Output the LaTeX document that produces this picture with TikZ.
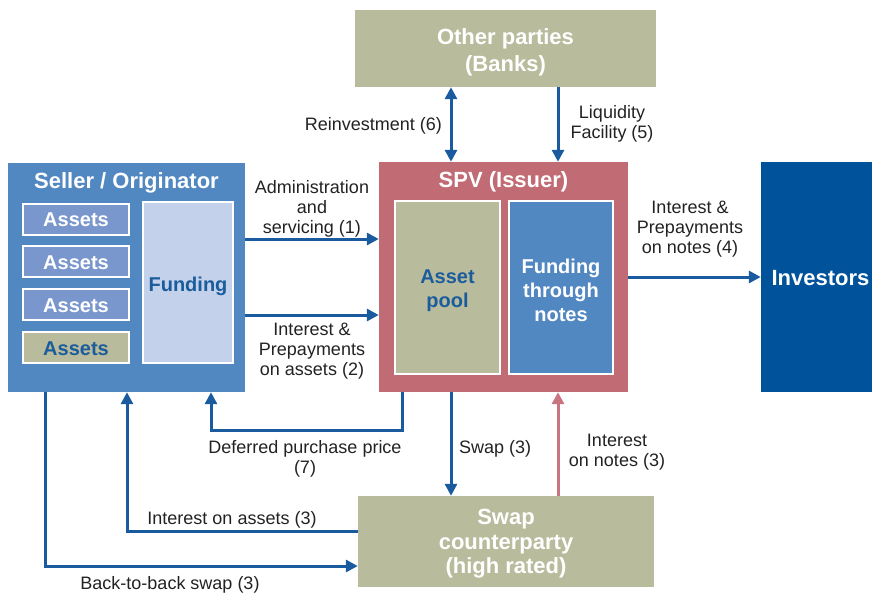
\documentclass[tikz,border=0pt]{standalone}
\usepackage{fontspec}
\setmainfont{Liberation Sans}
\usetikzlibrary{arrows.meta}
\definecolor{sellerblue}{RGB}{82,136,193}
\definecolor{assetblue}{RGB}{122,151,205}
\definecolor{fundlight}{RGB}{195,210,234}
\definecolor{textblue}{RGB}{27,92,156}
\definecolor{olive}{RGB}{184,188,156}
\definecolor{spvred}{RGB}{193,107,116}
\definecolor{invblue}{RGB}{0,82,155}
\definecolor{flowblue}{RGB}{26,90,159}
\definecolor{flowpink}{RGB}{201,117,128}
\definecolor{labelgray}{RGB}{34,34,34}
\begin{document}
\begin{tikzpicture}[x=1pt,y=-1pt,>={Triangle[length=12pt,width=12pt]}]
        \tikzstyle{party}=[draw=none,inner sep=0pt]
        \tikzstyle{inner}=[draw=white,line width=2pt,inner sep=0pt]
        \tikzstyle{bigtext}=[text=white,inner sep=0pt,align=center,font=\bfseries\fontsize{22}{27}\selectfont]
        \tikzstyle{boxtext}=[inner sep=0pt,align=center,font=\bfseries\fontsize{20}{24}\selectfont]
        \tikzstyle{flow}=[->,draw=flowblue,line width=3pt]
        \tikzstyle{lbl}=[text=labelgray,inner sep=0pt,align=center,font=\fontsize{18}{20}\selectfont]
        \useasboundingbox (0,0) rectangle (872,594);
        % boxes
        \node [party,fill=olive,minimum width=301pt,minimum height=77pt] (other) at (505.5,48.5) {};
        \node [bigtext] (othertext) at ([yshift=-4pt]other.center) {Other parties\\(Banks)};
        \node [party,fill=sellerblue,minimum width=237pt,minimum height=229pt] (seller) at (126.5,277.5) {};
        \node [bigtext] (sellertitle) at (126.5,183) {Seller / Originator};
        \node [inner,fill=assetblue,minimum width=106pt,minimum height=31pt] (a1) at (76,219) {};
        \node [inner,fill=assetblue,minimum width=106pt,minimum height=31pt] (a2) at (76,261.5) {};
        \node [inner,fill=assetblue,minimum width=106pt,minimum height=31pt] (a3) at (76,304.5) {};
        \node [inner,fill=olive,minimum width=106pt,minimum height=31pt] (a4) at (76,347.5) {};
        \node [boxtext,text=white] at ([yshift=-1pt]a1.center) {Assets};
        \node [boxtext,text=white] at ([yshift=-1pt]a2.center) {Assets};
        \node [boxtext,text=white] at ([yshift=-1pt]a3.center) {Assets};
        \node [boxtext,text=textblue] at ([yshift=-1pt]a4.center) {Assets};
        \node [inner,fill=fundlight,minimum width=90pt,minimum height=161pt] (funding) at (188,282.5) {};
        \node [boxtext,text=textblue] (fundingtext) at ([yshift=-3.5pt]funding.center) {Funding};
        \node [party,fill=spvred,minimum width=249pt,minimum height=230pt] (spv) at (503.5,277) {};
        \node [bigtext] (spvtitle) at (503.5,182) {SPV (Issuer)};
        \node [inner,fill=olive,minimum width=105pt,minimum height=173pt] (pool) at (447.5,287.5) {};
        \node [boxtext,text=textblue] (pooltext) at ([yshift=-3pt]pool.center) {Asset\\pool};
        \node [inner,fill=sellerblue,minimum width=104pt,minimum height=173pt] (notes) at (561,287.5) {};
        \node [boxtext,text=white] (notestext) at ([yshift=-3pt]notes.center) {Funding\\through\\notes};
        \node [party,fill=invblue,minimum width=111pt,minimum height=230pt] (investors) at (816.5,277) {};
        \node [bigtext] (investorstext) at ([xshift=4pt,yshift=-1pt]investors.center) {Investors};
        \node [party,fill=olive,minimum width=296pt,minimum height=91pt] (swap) at (506,541.5) {};
        \node [bigtext,font=\bfseries\fontsize{22}{24.5}\selectfont] (swaptext) at ([yshift=-2.5pt]swap.center) {Swap\\counterparty\\(high rated)};
        % helper coordinates
        \coordinate (c1) at (451,0);
        \coordinate (c2) at (558,0);
        \coordinate (r1) at (0,239);
        \coordinate (r2) at (0,315);
        \coordinate (d7) at (402,430);
        \coordinate (d7b) at (211,430);
        \coordinate (d3) at (127,531);
        \coordinate (d8) at (45,566);
        % flows
        \draw [flow,<->] (other.south -| c1) -- (spv.north -| c1);
        \draw [flow] (other.south -| c2) -- (spv.north -| c2);
        \draw [flow] (seller.east |- r1) -- (spv.west |- r1);
        \draw [flow] (seller.east |- r2) -- (spv.west |- r2);
        \draw [flow] (spv.east) -- (investors.west);
        \draw [flow] (spv.south -| d7) -- (d7) -- (d7b) -- (seller.south -| d7b);
        \draw [flow] (spv.south -| c1) -- (swap.north -| c1);
        \draw [flow,draw=flowpink] (swap.north -| c2) -- (spv.south -| c2);
        \draw [flow] (swap.west |- d3) -- (d3) -- (seller.south -| d3);
        \draw [flow] (seller.south -| d8) -- (d8) -- (swap.west |- d8);
        % labels
        \node [lbl,anchor=east] (l6) at (442,125.5) {Reinvestment (6)};
        \node [lbl] (l5) at (612,123.5) {Liquidity\\Facility (5)};
        \node [lbl] (l1) at (312,208.5) {Administration\\and\\servicing (1)};
        \node [lbl] (l2) at (312,351.5) {Interest \&\\Prepayments\\on assets (2)};
        \node [lbl] (l4) at (690,229.5) {Interest \&\\Prepayments\\on notes (4)};
        \node [lbl] (l7) at (305,459) {Deferred purchase price\\(7)};
        \node [lbl,anchor=west] (l3a) at (459,448.5) {Swap (3)};
        \node [lbl] (l3b) at (617,452.5) {Interest\\on notes (3)};
        \node [lbl] (l3c) at (232,519.5) {Interest on assets (3)};
        \node [lbl] (l3d) at (170,584.5) {Back-to-back swap (3)};
\end{tikzpicture}
\end{document}
